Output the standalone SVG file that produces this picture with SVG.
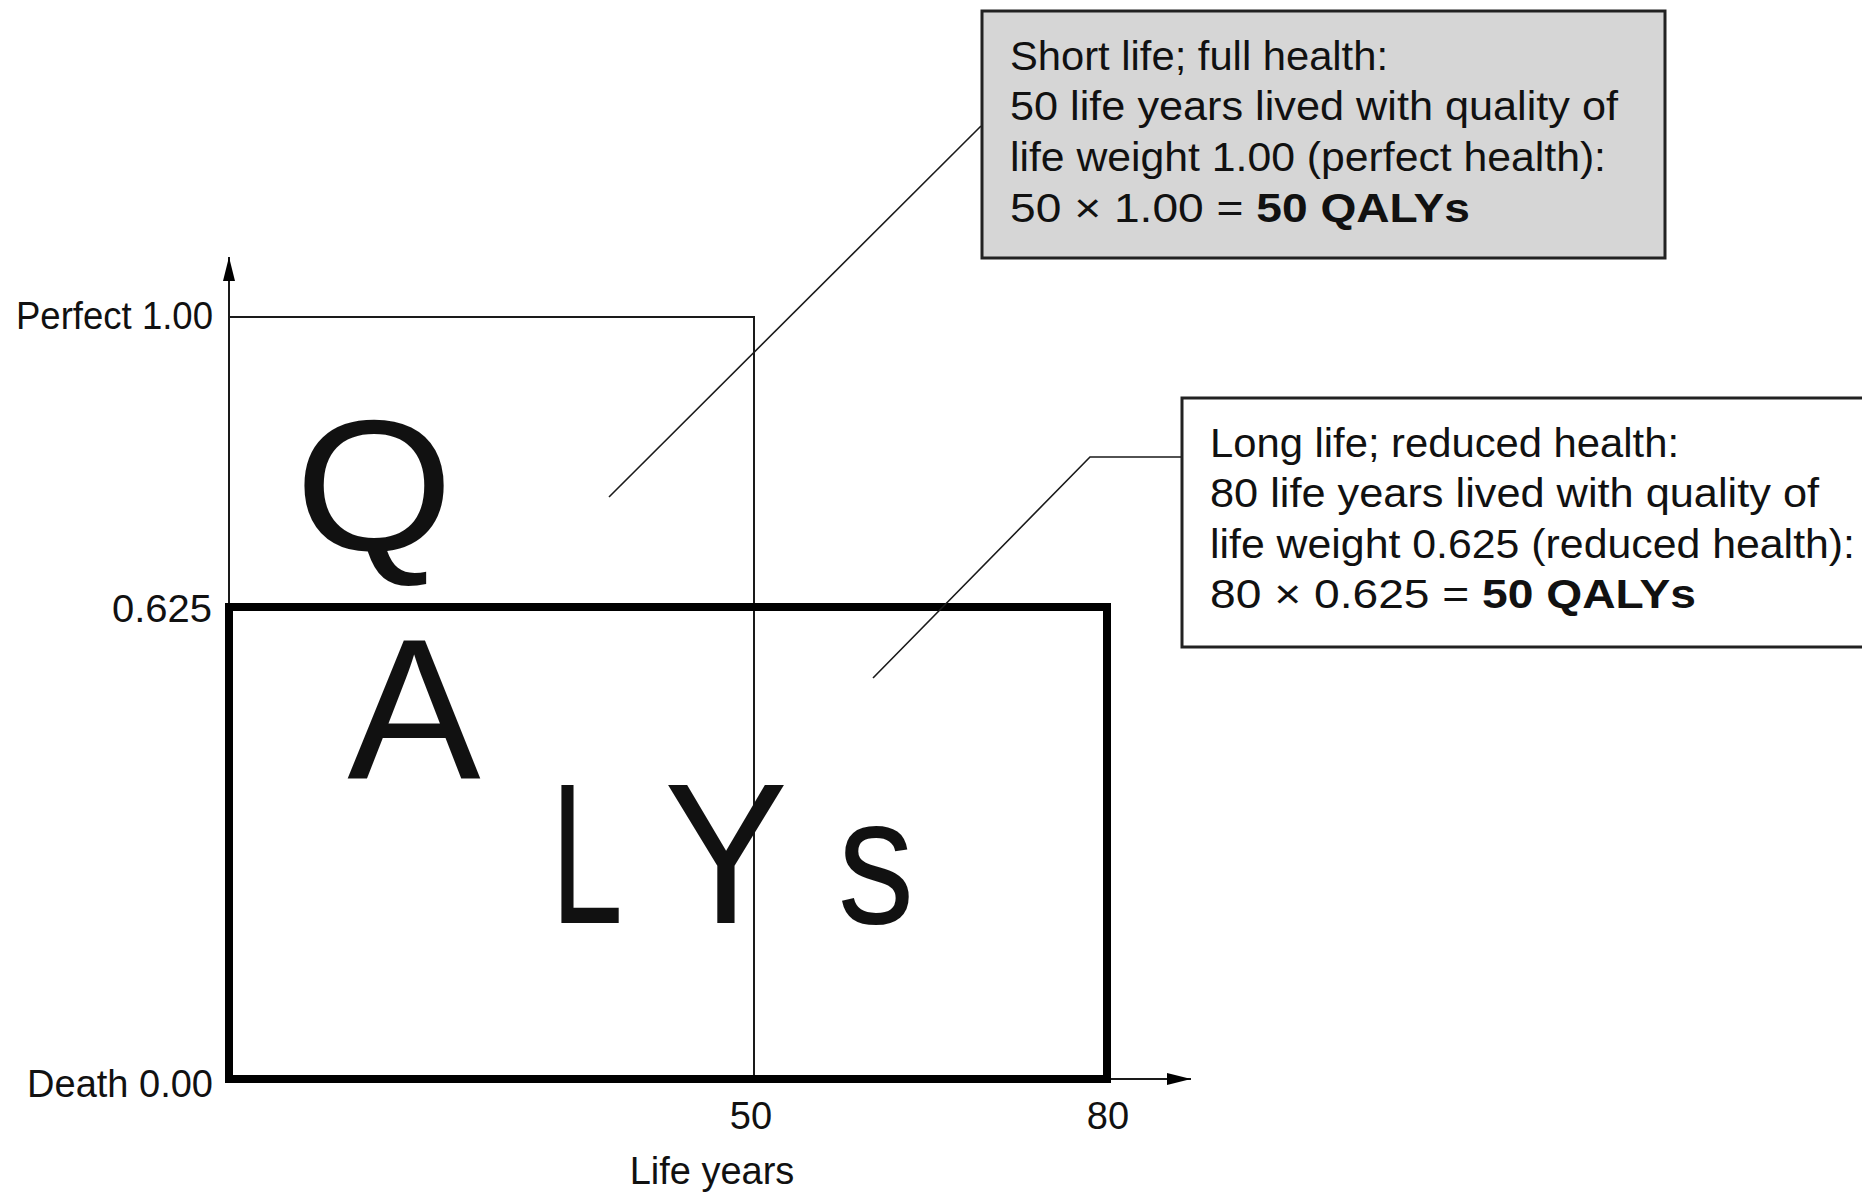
<svg xmlns="http://www.w3.org/2000/svg" width="1862" height="1193" viewBox="0 0 1862 1193">
  <style>
    text { font-family: "Liberation Sans", Arial, sans-serif; fill: #111; }
    .lbl { font-size: 38px; }
    .box { font-size: 40px; }
    .big { font-size: 200px; }
    .thin { fill: none; stroke: #1a1a1a; stroke-width: 2; }
    .leader { fill: none; stroke: #1a1a1a; stroke-width: 1.6; }
    .thick { fill: none; stroke: #000; stroke-width: 8; }
    .b { font-weight: bold; }
  </style>
  <defs>
    <marker id="arrow" markerUnits="userSpaceOnUse" markerWidth="24" markerHeight="12" refX="24" refY="6" orient="auto">
      <path d="M0,0 L24,6 L0,12 Z" fill="#000"/>
    </marker>
  </defs>

  <g id="axes">
    <line class="thin" x1="229" y1="1079" x2="229" y2="257" marker-end="url(#arrow)"/>
    <line class="thin" x1="229" y1="1079" x2="1191" y2="1079" marker-end="url(#arrow)"/>
    <text class="lbl" x="213" y="329" text-anchor="end" textLength="197" lengthAdjust="spacingAndGlyphs">Perfect 1.00</text>
    <text class="lbl" x="212" y="622" text-anchor="end" textLength="100" lengthAdjust="spacingAndGlyphs">0.625</text>
    <text class="lbl" x="213" y="1097" text-anchor="end">Death 0.00</text>
    <text class="lbl" x="751" y="1129" text-anchor="middle">50</text>
    <text class="lbl" x="1108" y="1129" text-anchor="middle">80</text>
    <text class="lbl" x="712" y="1184" text-anchor="middle">Life years</text>
  </g>

  <g id="region-short">
    <path class="thin" d="M229,317 H754 V1079"/>
  </g>

  <g id="region-long">
    <rect class="thick" x="229" y="607" width="878" height="472"/>
  </g>

  <g id="qalys-letters">
    <text transform="translate(374,551) scale(1.02,0.94)" text-anchor="middle" style="font-size:200px">Q</text>
    <text class="big" x="414" y="778" text-anchor="middle">A</text>
    <text class="big" transform="translate(587,923) scale(0.65,1)" text-anchor="middle">L</text>
    <text class="big" transform="translate(726,923) scale(0.93,1)" text-anchor="middle">Y</text>
    <text transform="translate(876,923) scale(0.85,1)" text-anchor="middle" style="font-size:180px">s</text>
  </g>

  <g id="connectors">
    <line class="leader" x1="609" y1="497" x2="981" y2="126"/>
    <polyline class="leader" points="873,678 1090,457 1182,457"/>
  </g>

  <g id="box-short">
    <rect x="982" y="11" width="683" height="247" fill="#d6d6d6" stroke="#222" stroke-width="3"/>
    <text class="box" x="1010" y="70" textLength="378" lengthAdjust="spacingAndGlyphs">Short life; full health:</text>
    <text class="box" x="1010" y="120" textLength="608" lengthAdjust="spacingAndGlyphs">50 life years lived with quality of</text>
    <text class="box" x="1010" y="171" textLength="596" lengthAdjust="spacingAndGlyphs">life weight 1.00 (perfect health):</text>
    <text class="box" x="1010" y="222" textLength="460" lengthAdjust="spacingAndGlyphs">50 × 1.00 = <tspan class="b">50 QALYs</tspan></text>
  </g>

  <g id="box-long">
    <rect x="1182" y="398" width="700" height="249" fill="#fff" stroke="#222" stroke-width="3"/>
    <text class="box" x="1210" y="457" textLength="469" lengthAdjust="spacingAndGlyphs">Long life; reduced health:</text>
    <text class="box" x="1210" y="507" textLength="609" lengthAdjust="spacingAndGlyphs">80 life years lived with quality of</text>
    <text class="box" x="1210" y="558" textLength="645" lengthAdjust="spacingAndGlyphs">life weight 0.625 (reduced health):</text>
    <text class="box" x="1210" y="608" textLength="486" lengthAdjust="spacingAndGlyphs">80 × 0.625 = <tspan class="b">50 QALYs</tspan></text>
  </g>
</svg>
